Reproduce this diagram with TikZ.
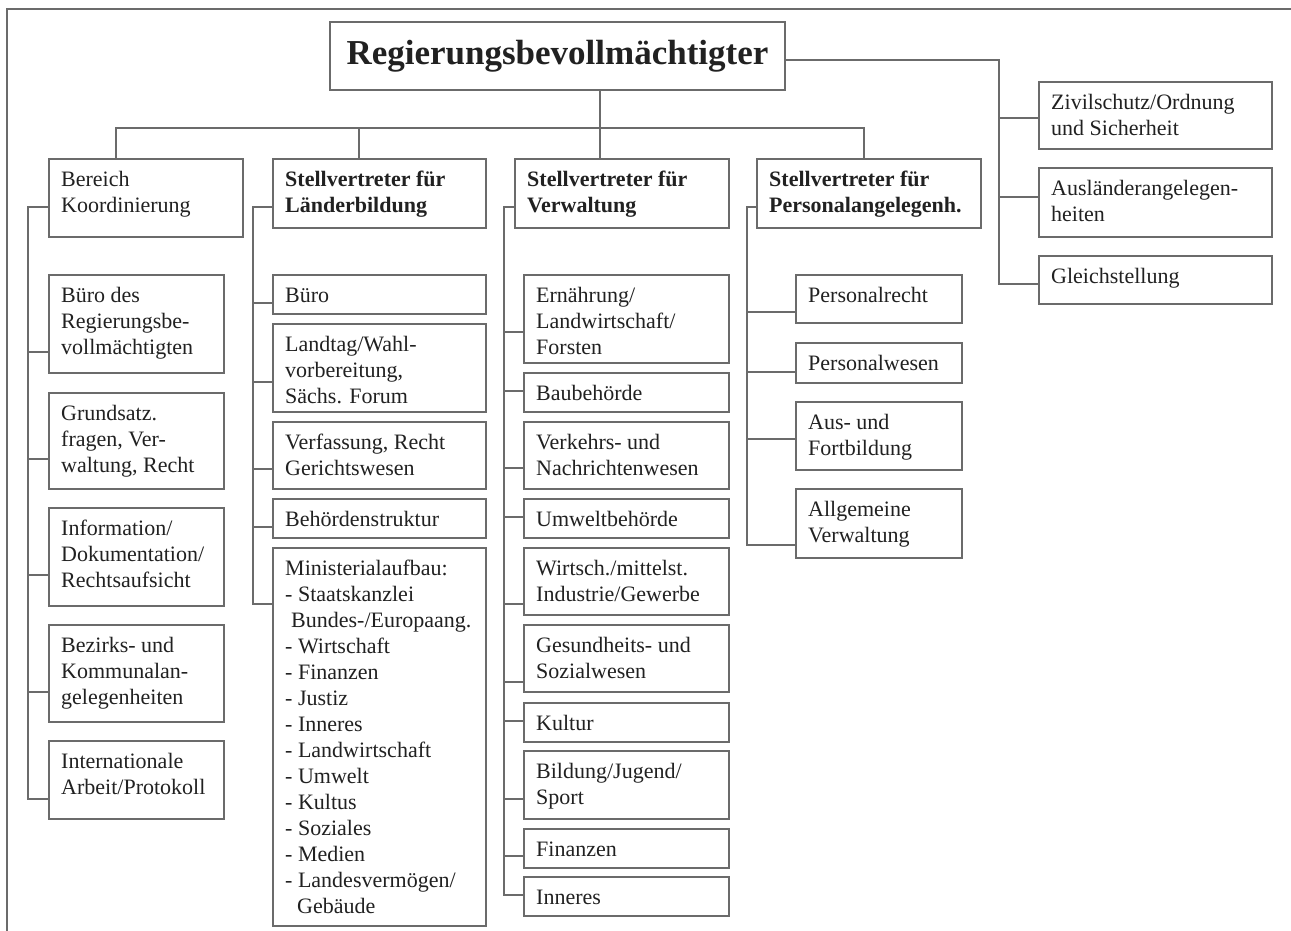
\documentclass[tikz,border=0pt]{standalone}
\usepackage{fontspec}
\setmainfont{Liberation Serif}
\definecolor{lncol}{gray}{0.42}
\definecolor{txcol}{gray}{0.13}
\tikzset{
  obox/.style={draw=lncol, line width=1.6pt, rectangle, inner sep=0pt, fill=white},
  otxt/.style={anchor=north west, inner sep=0pt, align=left, text=txcol, font=\fontsize{22}{26}\selectfont},
  conn/.style={draw=lncol, line width=1.5pt},
  frameline/.style={draw=lncol, line width=1.5pt}
}
\newcommand\obx[6]{%
  \node[obox, anchor=north west, minimum width={#4-#2}, minimum height={#5-#3}] (#1) at (#2,#3) {};
  \node[otxt] (#1-t) at (#2+13,#3+10) {\strut #6};
}
\newcommand\brc[3]{\draw[conn] (#1 |- 0,#3) -- (#2.west |- 0,#3);}
\begin{document}
\begin{tikzpicture}[x=1pt,y=-1pt]
\useasboundingbox (0,0) rectangle (1291,931);
\fill[white] (0,0) rectangle (1291,931);
% outer frame
\draw[frameline] (1291,9) -- (7,9) -- (7,931);

% title
\node[obox, minimum width=455, minimum height=68, text=txcol,
      font=\fontsize{35}{40}\selectfont\bfseries] (title) at (557.5,56) {Regierungsbevollmächtigter};

% top row
\obx{bereich}{48}{158}{242}{236}{Bereich\\Koordinierung}
\obx{laender}{272}{158}{485}{227}{\bfseries Stellvertreter für\\\bfseries Länderbildung}
\obx{verw}{514}{158}{728}{227}{\bfseries Stellvertreter für\\\bfseries Verwaltung}
\obx{pers}{756}{158}{980}{227}{\bfseries Stellvertreter für\\\bfseries Personalangelegenh.}

% right column
\obx{zivil}{1038}{81}{1271}{148}{Zivilschutz/Ordnung\\und Sicherheit}
\obx{ausl}{1038}{167}{1271}{236}{Ausländerangelegen-\\heiten}
\obx{gleich}{1038}{255}{1271}{303}{Gleichstellung}

% column 1
\obx{c1a}{48}{274}{223}{372}{Büro des\\Regierungsbe-\\vollmächtigten}
\obx{c1b}{48}{392}{223}{488}{Grundsatz.\\fragen, Ver-\\waltung, Recht}
\obx{c1c}{48}{507}{223}{605}{Information/\\Dokumentation/\\Rechtsaufsicht}
\obx{c1d}{48}{624}{223}{721}{Bezirks- und\\Kommunalan-\\gelegenheiten}
\obx{c1e}{48}{740}{223}{818}{Internationale\\Arbeit/Protokoll}

% column 2
\obx{c2a}{272}{274}{485}{313}{Büro}
\obx{c2b}{272}{323}{485}{411}{Landtag/Wahl-\\vorbereitung,\\Sächs. Forum}
\obx{c2c}{272}{421}{485}{488}{Verfassung, Recht\\Gerichtswesen}
\obx{c2d}{272}{498}{485}{537}{Behördenstruktur}
\obx{c2e}{272}{547}{485}{925}{Ministerialaufbau:\\- Staatskanzlei\\\hspace*{6pt}Bundes-/Europaang.\\- Wirtschaft\\- Finanzen\\- Justiz\\- Inneres\\- Landwirtschaft\\- Umwelt\\- Kultus\\- Soziales\\- Medien\\- Landesvermögen/\\\hspace*{12pt}Gebäude}

% column 3
\obx{c3a}{523}{274}{728}{362}{Ernährung/\\Landwirtschaft/\\Forsten}
\obx{c3b}{523}{372}{728}{411}{Baubehörde}
\obx{c3c}{523}{421}{728}{488}{Verkehrs- und\\Nachrichtenwesen}
\obx{c3d}{523}{498}{728}{537}{Umweltbehörde}
\obx{c3e}{523}{547}{728}{614}{Wirtsch./mittelst.\\Industrie/Gewerbe}
\obx{c3f}{523}{624}{728}{691}{Gesundheits- und\\Sozialwesen}
\obx{c3g}{523}{702}{728}{741}{Kultur}
\obx{c3h}{523}{750}{728}{818}{Bildung/Jugend/\\Sport}
\obx{c3i}{523}{828}{728}{867}{Finanzen}
\obx{c3j}{523}{876}{728}{915}{Inneres}

% column 4
\obx{c4a}{795}{274}{961}{322}{Personalrecht}
\obx{c4b}{795}{342}{961}{382}{Personalwesen}
\obx{c4c}{795}{401}{961}{469}{Aus- und\\Fortbildung}
\obx{c4d}{795}{488}{961}{557}{Allgemeine\\Verwaltung}

% spine coordinates
\coordinate (s0) at (999,0);
\coordinate (s1) at (28,0);
\coordinate (s2) at (253,0);
\coordinate (s3) at (504,0);
\coordinate (s4) at (747,0);

% main bus
\draw[conn] (title.south -| 600,0) -- (600,128);
\draw[conn] (bereich.north -| 116,0) -- (116,128) -- (864,128) -- (pers.north -| 864,0);
\draw[conn] (laender.north -| 359,0) -- (359,128);
\draw[conn] (verw.north -| 600,0) -- (600,128);

% right branch
\draw[conn] (title.east |- 0,60) -- (s0 |- 0,60) -- (s0 |- 0,284) -- (gleich.west |- 0,284);
\brc{s0}{zivil}{118}
\brc{s0}{ausl}{197}

% column 1 spine
\draw[conn] (bereich.west |- 0,207) -- (s1 |- 0,207) -- (s1 |- 0,799) -- (c1e.west |- 0,799);
\brc{s1}{c1a}{352}
\brc{s1}{c1b}{459}
\brc{s1}{c1c}{575}
\brc{s1}{c1d}{692}

% column 2 spine
\draw[conn] (laender.west |- 0,207) -- (s2 |- 0,207) -- (s2 |- 0,604) -- (c2e.west |- 0,604);
\brc{s2}{c2a}{303}
\brc{s2}{c2b}{382}
\brc{s2}{c2c}{469}
\brc{s2}{c2d}{527}

% column 3 spine
\draw[conn] (verw.west |- 0,207) -- (s3 |- 0,207) -- (s3 |- 0,895) -- (c3j.west |- 0,895);
\brc{s3}{c3a}{332}
\brc{s3}{c3b}{391}
\brc{s3}{c3c}{468}
\brc{s3}{c3d}{517}
\brc{s3}{c3e}{604}
\brc{s3}{c3f}{682}
\brc{s3}{c3g}{721}
\brc{s3}{c3h}{799}
\brc{s3}{c3i}{856}

% column 4 spine
\draw[conn] (pers.west |- 0,207) -- (s4 |- 0,207) -- (s4 |- 0,545) -- (c4d.west |- 0,545);
\brc{s4}{c4a}{312}
\brc{s4}{c4b}{372}
\brc{s4}{c4c}{439}
\end{tikzpicture}
\end{document}
